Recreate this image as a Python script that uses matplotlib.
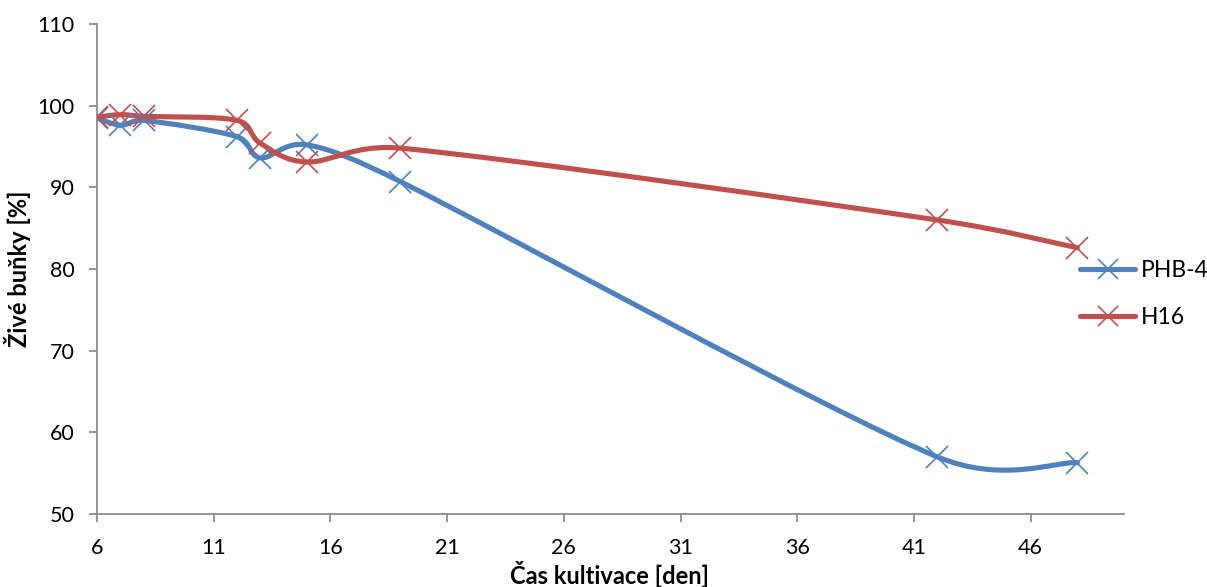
import numpy as np
import matplotlib
matplotlib.use('Agg')
import matplotlib.pyplot as plt
from matplotlib.path import Path
from matplotlib.patches import PathPatch
from matplotlib.lines import Line2D

# data
days = [6, 7, 8, 12, 13, 15, 19, 42, 48]
phb4 = [98.5, 97.6, 98.2, 96.2, 93.6, 95.2, 90.7, 57.0, 56.3]
h16 = [98.6, 98.9, 98.7, 98.2, 95.4, 93.1, 94.8, 86.0, 82.6]

BLUE = '#4F81BD'
RED = '#C0504D'

plt.rcParams['font.family'] = ['Lato', 'DejaVu Sans']


def smooth_path(ax, x, y):
    """Excel-like smoothed line, built in pixel space and mapped back to data."""
    pts = ax.transData.transform(np.column_stack([x, y]).astype(float))
    n = len(pts)
    verts = [pts[0]]
    codes = [Path.MOVETO]
    for i in range(n - 1):
        p0 = pts[i - 1] if i > 0 else pts[i]
        p1 = pts[i]
        p2 = pts[i + 1]
        p3 = pts[i + 2] if i + 2 < n else pts[i + 1]
        d02 = np.hypot(*(p2 - p0))
        d12 = np.hypot(*(p2 - p1))
        d13 = np.hypot(*(p3 - p1))
        f1 = min(1 / 6, 0.5 * d12 / d02) if d02 > 0 else 0
        f2 = min(1 / 6, 0.5 * d12 / d13) if d13 > 0 else 0
        c1 = p1 + f1 * (p2 - p0)
        c2 = p2 - f2 * (p3 - p1)
        verts += [c1, c2, p2]
        codes += [Path.CURVE4] * 3
    verts = ax.transData.inverted().transform(np.array(verts))
    return Path(verts, codes)


fig = plt.figure(figsize=(12.07, 5.87), dpi=100)
ax = fig.add_axes([97 / 1207, 73 / 587, (1124 - 97) / 1207, (514 - 24) / 587])

ax.set_xlim(6, 50)
ax.set_ylim(50, 110)
ax.set_xticks(np.arange(6, 50, 5))
ax.set_yticks(np.arange(50, 111, 10))

for vals, col in [(phb4, BLUE), (h16, RED)]:
    ax.add_patch(PathPatch(smooth_path(ax, days, vals), facecolor='none',
                           edgecolor=col, lw=3.7, capstyle='round', zorder=2))
    ax.plot(days, vals, ls='none', marker='x', ms=16, mew=1.2, color=col, zorder=3)

for s in ['top', 'right']:
    ax.spines[s].set_visible(False)
for s in ['left', 'bottom']:
    ax.spines[s].set_color('#8C8C8C')
    ax.spines[s].set_linewidth(1.3)
ax.tick_params(axis='both', direction='out', length=6, width=1.3, color='#8C8C8C',
               labelsize=15.5, labelcolor='black')
ax.tick_params(axis='x', pad=11)
ax.tick_params(axis='y', pad=10)

ax.set_ylabel('Živé buňky [%]', fontsize=17, fontweight='bold')
ax.yaxis.set_label_coords(-0.064, 0.5)
fig.text(610 / 1207, 13 / 587, 'Čas kultivace [den]', fontsize=17,
         fontweight='bold', ha='center', va='center')

handles = [Line2D([], [], color=BLUE, lw=3.7, marker='x', ms=14, mew=1.2,
                  solid_capstyle='round'),
           Line2D([], [], color=RED, lw=3.7, marker='x', ms=14, mew=1.2,
                  solid_capstyle='round')]
fig.legend(handles, ['PHB-4', 'H16'], loc='center left',
           bbox_to_anchor=(1080 / 1207, 293 / 587), frameon=False,
           fontsize=16.5, handlelength=2.4, handletextpad=0.25, labelspacing=1.12,
           borderaxespad=0, borderpad=0)

fig.savefig('out.png', dpi=100)
